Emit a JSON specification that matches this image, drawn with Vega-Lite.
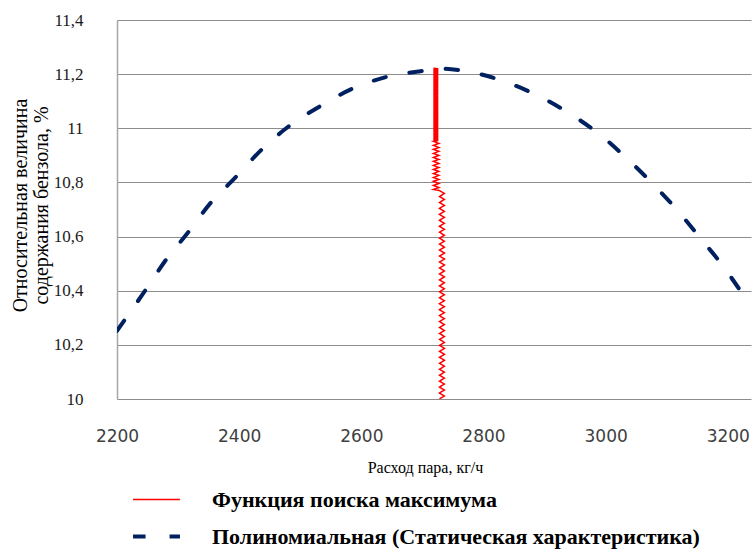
{
  "$schema": "https://vega.github.io/schema/vega-lite/v6.json",
  "width": 634,
  "height": 379,
  "autosize": "none",
  "padding": {"left": 117, "top": 20, "right": 3, "bottom": 155},
  "background": "white",
  "datasets": {
    "poly": [
      {"x": 2200, "y": 10.252, "s": "b"},
      {"x": 2246, "y": 10.4, "s": "b"},
      {"x": 2284, "y": 10.526, "s": "b"},
      {"x": 2311, "y": 10.6, "s": "b"},
      {"x": 2357, "y": 10.734, "s": "b"},
      {"x": 2386, "y": 10.8, "s": "b"},
      {"x": 2439, "y": 10.926, "s": "b"},
      {"x": 2477, "y": 11.0, "s": "b"},
      {"x": 2533, "y": 11.082, "s": "b"},
      {"x": 2584, "y": 11.145, "s": "b"},
      {"x": 2640, "y": 11.189, "s": "b"},
      {"x": 2697, "y": 11.211, "s": "b"},
      {"x": 2732, "y": 11.22, "s": "b"},
      {"x": 2768, "y": 11.212, "s": "b"},
      {"x": 2840, "y": 11.168, "s": "b"},
      {"x": 2894, "y": 11.115, "s": "b"},
      {"x": 2945, "y": 11.049, "s": "b"},
      {"x": 2992, "y": 10.974, "s": "b"},
      {"x": 3036, "y": 10.886, "s": "b"},
      {"x": 3078, "y": 10.793, "s": "b"},
      {"x": 3119, "y": 10.693, "s": "b"},
      {"x": 3157, "y": 10.589, "s": "b"},
      {"x": 3193, "y": 10.489, "s": "b"},
      {"x": 3227, "y": 10.381, "s": "b"},
      {"x": 3238, "y": 10.35, "s": "b"}
    ],
    "search": [
      {"x": 2728, "y": 10.000, "s": "a"}, {"x": 2736, "y": 10.011, "s": "a"},
      {"x": 2728, "y": 10.022, "s": "a"}, {"x": 2736, "y": 10.033, "s": "a"},
      {"x": 2728, "y": 10.044, "s": "a"}, {"x": 2736, "y": 10.055, "s": "a"},
      {"x": 2728, "y": 10.066, "s": "a"}, {"x": 2736, "y": 10.077, "s": "a"},
      {"x": 2728, "y": 10.088, "s": "a"}, {"x": 2736, "y": 10.099, "s": "a"},
      {"x": 2728, "y": 10.110, "s": "a"}, {"x": 2736, "y": 10.121, "s": "a"},
      {"x": 2728, "y": 10.132, "s": "a"}, {"x": 2736, "y": 10.143, "s": "a"},
      {"x": 2728, "y": 10.154, "s": "a"}, {"x": 2736, "y": 10.165, "s": "a"},
      {"x": 2728, "y": 10.176, "s": "a"}, {"x": 2736, "y": 10.187, "s": "a"},
      {"x": 2728, "y": 10.198, "s": "a"}, {"x": 2736, "y": 10.209, "s": "a"},
      {"x": 2728, "y": 10.220, "s": "a"}, {"x": 2736, "y": 10.231, "s": "a"},
      {"x": 2728, "y": 10.242, "s": "a"}, {"x": 2736, "y": 10.253, "s": "a"},
      {"x": 2728, "y": 10.264, "s": "a"}, {"x": 2736, "y": 10.275, "s": "a"},
      {"x": 2728, "y": 10.286, "s": "a"}, {"x": 2736, "y": 10.297, "s": "a"},
      {"x": 2728, "y": 10.308, "s": "a"}, {"x": 2736, "y": 10.319, "s": "a"},
      {"x": 2728, "y": 10.330, "s": "a"}, {"x": 2736, "y": 10.341, "s": "a"},
      {"x": 2728, "y": 10.352, "s": "a"}, {"x": 2736, "y": 10.363, "s": "a"},
      {"x": 2728, "y": 10.374, "s": "a"}, {"x": 2736, "y": 10.385, "s": "a"},
      {"x": 2728, "y": 10.396, "s": "a"}, {"x": 2736, "y": 10.407, "s": "a"},
      {"x": 2728, "y": 10.418, "s": "a"}, {"x": 2736, "y": 10.429, "s": "a"},
      {"x": 2728, "y": 10.440, "s": "a"}, {"x": 2736, "y": 10.451, "s": "a"},
      {"x": 2728, "y": 10.462, "s": "a"}, {"x": 2736, "y": 10.473, "s": "a"},
      {"x": 2728, "y": 10.484, "s": "a"}, {"x": 2736, "y": 10.495, "s": "a"},
      {"x": 2728, "y": 10.506, "s": "a"}, {"x": 2736, "y": 10.517, "s": "a"},
      {"x": 2728, "y": 10.528, "s": "a"}, {"x": 2736, "y": 10.539, "s": "a"},
      {"x": 2728, "y": 10.550, "s": "a"}, {"x": 2736, "y": 10.561, "s": "a"},
      {"x": 2728, "y": 10.572, "s": "a"}, {"x": 2736, "y": 10.583, "s": "a"},
      {"x": 2728, "y": 10.594, "s": "a"}, {"x": 2736, "y": 10.605, "s": "a"},
      {"x": 2728, "y": 10.616, "s": "a"}, {"x": 2736, "y": 10.627, "s": "a"},
      {"x": 2728, "y": 10.638, "s": "a"}, {"x": 2736, "y": 10.649, "s": "a"},
      {"x": 2728, "y": 10.660, "s": "a"}, {"x": 2736, "y": 10.671, "s": "a"},
      {"x": 2728, "y": 10.682, "s": "a"}, {"x": 2736, "y": 10.693, "s": "a"},
      {"x": 2728, "y": 10.704, "s": "a"}, {"x": 2736, "y": 10.715, "s": "a"},
      {"x": 2728, "y": 10.726, "s": "a"}, {"x": 2736, "y": 10.737, "s": "a"},
      {"x": 2728, "y": 10.748, "s": "a"}, {"x": 2736, "y": 10.759, "s": "a"},
      {"x": 2728, "y": 10.770, "s": "a"},
      {"x": 2718, "y": 10.774, "s": "a"}, {"x": 2727, "y": 10.781, "s": "a"},
      {"x": 2718, "y": 10.789, "s": "a"}, {"x": 2727, "y": 10.796, "s": "a"},
      {"x": 2718, "y": 10.804, "s": "a"}, {"x": 2727, "y": 10.811, "s": "a"},
      {"x": 2718, "y": 10.818, "s": "a"}, {"x": 2727, "y": 10.826, "s": "a"},
      {"x": 2718, "y": 10.833, "s": "a"}, {"x": 2727, "y": 10.841, "s": "a"},
      {"x": 2718, "y": 10.848, "s": "a"}, {"x": 2727, "y": 10.855, "s": "a"},
      {"x": 2718, "y": 10.863, "s": "a"}, {"x": 2727, "y": 10.870, "s": "a"},
      {"x": 2718, "y": 10.878, "s": "a"}, {"x": 2727, "y": 10.885, "s": "a"},
      {"x": 2718, "y": 10.892, "s": "a"}, {"x": 2727, "y": 10.900, "s": "a"},
      {"x": 2718, "y": 10.907, "s": "a"}, {"x": 2727, "y": 10.915, "s": "a"},
      {"x": 2718, "y": 10.922, "s": "a"}, {"x": 2727, "y": 10.929, "s": "a"},
      {"x": 2718, "y": 10.937, "s": "a"}, {"x": 2727, "y": 10.944, "s": "a"},
      {"x": 2718, "y": 10.952, "s": "a"},
      {"x": 2726, "y": 10.9545, "s": "a"}, {"x": 2718, "y": 10.957, "s": "a"},
      {"x": 2726, "y": 10.9595, "s": "a"}, {"x": 2718, "y": 10.962, "s": "a"},
      {"x": 2726, "y": 10.9645, "s": "a"}, {"x": 2718, "y": 10.967, "s": "a"},
      {"x": 2726, "y": 10.9695, "s": "a"}, {"x": 2718, "y": 10.972, "s": "a"},
      {"x": 2726, "y": 10.9745, "s": "a"}, {"x": 2718, "y": 10.977, "s": "a"},
      {"x": 2726, "y": 10.9795, "s": "a"}, {"x": 2718, "y": 10.982, "s": "a"},
      {"x": 2726, "y": 10.9845, "s": "a"}, {"x": 2718, "y": 10.987, "s": "a"},
      {"x": 2726, "y": 10.9895, "s": "a"}, {"x": 2718, "y": 10.992, "s": "a"},
      {"x": 2726, "y": 10.9945, "s": "a"}, {"x": 2718, "y": 10.997, "s": "a"},
      {"x": 2726, "y": 10.9995, "s": "a"}, {"x": 2718, "y": 11.002, "s": "a"},
      {"x": 2726, "y": 11.0045, "s": "a"}, {"x": 2718, "y": 11.007, "s": "a"},
      {"x": 2726, "y": 11.0095, "s": "a"}, {"x": 2718, "y": 11.012, "s": "a"},
      {"x": 2726, "y": 11.0145, "s": "a"}, {"x": 2718, "y": 11.017, "s": "a"},
      {"x": 2726, "y": 11.0195, "s": "a"}, {"x": 2718, "y": 11.022, "s": "a"},
      {"x": 2726, "y": 11.0245, "s": "a"}, {"x": 2718, "y": 11.027, "s": "a"},
      {"x": 2726, "y": 11.0295, "s": "a"}, {"x": 2718, "y": 11.032, "s": "a"},
      {"x": 2726, "y": 11.0345, "s": "a"}, {"x": 2718, "y": 11.037, "s": "a"},
      {"x": 2726, "y": 11.0395, "s": "a"}, {"x": 2718, "y": 11.042, "s": "a"},
      {"x": 2726, "y": 11.0445, "s": "a"}, {"x": 2718, "y": 11.047, "s": "a"},
      {"x": 2726, "y": 11.0495, "s": "a"}, {"x": 2718, "y": 11.052, "s": "a"},
      {"x": 2726, "y": 11.0545, "s": "a"}, {"x": 2718, "y": 11.057, "s": "a"},
      {"x": 2726, "y": 11.0595, "s": "a"}, {"x": 2718, "y": 11.062, "s": "a"},
      {"x": 2726, "y": 11.0645, "s": "a"}, {"x": 2718, "y": 11.067, "s": "a"},
      {"x": 2726, "y": 11.0695, "s": "a"}, {"x": 2718, "y": 11.072, "s": "a"},
      {"x": 2726, "y": 11.0745, "s": "a"}, {"x": 2718, "y": 11.077, "s": "a"},
      {"x": 2726, "y": 11.0795, "s": "a"}, {"x": 2718, "y": 11.082, "s": "a"},
      {"x": 2726, "y": 11.0845, "s": "a"}, {"x": 2718, "y": 11.087, "s": "a"},
      {"x": 2726, "y": 11.0895, "s": "a"}, {"x": 2718, "y": 11.092, "s": "a"},
      {"x": 2726, "y": 11.0945, "s": "a"}, {"x": 2718, "y": 11.097, "s": "a"},
      {"x": 2726, "y": 11.0995, "s": "a"}, {"x": 2718, "y": 11.102, "s": "a"},
      {"x": 2726, "y": 11.1045, "s": "a"}, {"x": 2718, "y": 11.107, "s": "a"},
      {"x": 2726, "y": 11.1095, "s": "a"}, {"x": 2718, "y": 11.112, "s": "a"},
      {"x": 2726, "y": 11.1145, "s": "a"}, {"x": 2718, "y": 11.117, "s": "a"},
      {"x": 2726, "y": 11.1195, "s": "a"}, {"x": 2718, "y": 11.122, "s": "a"},
      {"x": 2726, "y": 11.1245, "s": "a"}, {"x": 2718, "y": 11.127, "s": "a"},
      {"x": 2726, "y": 11.1295, "s": "a"}, {"x": 2718, "y": 11.132, "s": "a"},
      {"x": 2726, "y": 11.1345, "s": "a"}, {"x": 2718, "y": 11.137, "s": "a"},
      {"x": 2726, "y": 11.1395, "s": "a"}, {"x": 2718, "y": 11.142, "s": "a"},
      {"x": 2726, "y": 11.1445, "s": "a"}, {"x": 2718, "y": 11.147, "s": "a"},
      {"x": 2726, "y": 11.1495, "s": "a"}, {"x": 2718, "y": 11.152, "s": "a"},
      {"x": 2726, "y": 11.1545, "s": "a"}, {"x": 2718, "y": 11.157, "s": "a"},
      {"x": 2726, "y": 11.1595, "s": "a"}, {"x": 2718, "y": 11.162, "s": "a"},
      {"x": 2726, "y": 11.1645, "s": "a"}, {"x": 2718, "y": 11.167, "s": "a"},
      {"x": 2726, "y": 11.1695, "s": "a"}, {"x": 2718, "y": 11.172, "s": "a"},
      {"x": 2726, "y": 11.1745, "s": "a"}, {"x": 2718, "y": 11.177, "s": "a"},
      {"x": 2726, "y": 11.1795, "s": "a"}, {"x": 2718, "y": 11.182, "s": "a"},
      {"x": 2726, "y": 11.1845, "s": "a"}, {"x": 2718, "y": 11.187, "s": "a"},
      {"x": 2726, "y": 11.1895, "s": "a"}, {"x": 2718, "y": 11.192, "s": "a"},
      {"x": 2726, "y": 11.1945, "s": "a"}, {"x": 2718, "y": 11.197, "s": "a"},
      {"x": 2726, "y": 11.1995, "s": "a"}, {"x": 2718, "y": 11.202, "s": "a"},
      {"x": 2726, "y": 11.2045, "s": "a"}, {"x": 2718, "y": 11.207, "s": "a"},
      {"x": 2726, "y": 11.2095, "s": "a"}, {"x": 2718, "y": 11.212, "s": "a"},
      {"x": 2726, "y": 11.2145, "s": "a"}, {"x": 2718, "y": 11.217, "s": "a"},
      {"x": 2726, "y": 11.2195, "s": "a"}, {"x": 2718, "y": 11.222, "s": "a"}
    ]
  },
  "encoding": {
    "x": {
      "field": "x", "type": "quantitative",
      "scale": {"domain": [2200, 3238], "nice": false, "zero": false},
      "axis": {
        "values": [2200, 2400, 2600, 2800, 3000, 3200],
        "format": "d",
        "title": "Расход пара, кг/ч",
        "titleFont": "'Liberation Serif', 'Times New Roman', serif", "titleFontSize": 16, "titleFontWeight": "normal", "titleColor": "#000000",
        "titleX": 308, "titleY": 68, "titleAlign": "center", "titleBaseline": "middle",
        "labelFont": "'DejaVu Sans', sans-serif", "labelFontSize": 17, "labelColor": "#404040",
        "labelPadding": 29, "labelBaseline": "top",
        "labelOverlap": false, "labelFlush": false,
        "ticks": false, "domain": false, "grid": false
      }
    },
    "y": {
      "field": "y", "type": "quantitative",
      "scale": {"domain": [10, 11.4], "nice": false, "zero": false},
      "axis": {
        "values": [10, 10.2, 10.4, 10.6, 10.8, 11, 11.2, 11.4],
        "labelExpr": "replace(format(datum.value, '.1~f'), '.', ',')",
        "title": ["Относительная величина", "содержания бензола, %"],
        "titleFont": "'Liberation Serif', 'Times New Roman', serif", "titleFontSize": 20, "titleFontWeight": "normal", "titleColor": "#000000",
        "titleAngle": -90, "titleX": -97, "titleY": 185, "titleAlign": "center", "titleBaseline": "middle", "titleLineHeight": 21,
        "labelFont": "'Liberation Serif', 'Times New Roman', serif", "labelFontSize": 17, "labelColor": "#1a1a1a",
        "labelPadding": 34, "ticks": false,
        "domain": true, "domainColor": "#a6a6a6", "domainWidth": 1.5,
        "grid": true, "gridColor": "#8c8c8c", "gridWidth": 1.2
      }
    }
  },
  "layer": [
    {
      "data": {"name": "poly"},
      "mark": {"type": "line", "interpolate": "monotone", "strokeCap": "round", "clip": true},
      "encoding": {
        "color": {"field": "s", "type": "nominal",
          "scale": {"domain": ["a", "b"], "range": ["#ff0000", "#002060"]},
          "legend": {"labelExpr": "datum.value == 'a' ? 'Функция поиска максимума' : 'Полиномиальная (Статическая характеристика)'"}},
        "strokeDash": {"field": "s", "type": "nominal",
          "scale": {"domain": ["a", "b"], "range": [[1, 0], [12.5, 24]]},
          "legend": {"labelExpr": "datum.value == 'a' ? 'Функция поиска максимума' : 'Полиномиальная (Статическая характеристика)'"}},
        "strokeWidth": {"field": "s", "type": "nominal",
          "scale": {"domain": ["a", "b"], "range": [1.5, 4]},
          "legend": {"labelExpr": "datum.value == 'a' ? 'Функция поиска максимума' : 'Полиномиальная (Статическая характеристика)'"}}
      }
    },
    {
      "data": {"name": "search"},
      "mark": {"type": "line", "clip": true},
      "encoding": {
        "order": {"field": "y", "type": "quantitative"},
        "color": {"field": "s", "type": "nominal"},
        "strokeDash": {"field": "s", "type": "nominal"},
        "strokeWidth": {"field": "s", "type": "nominal"}
      }
    }
  ],
  "resolve": {"scale": {"color": "shared", "strokeDash": "shared", "strokeWidth": "shared"}},
  "config": {
    "view": {"stroke": null},
    "legend": {
      "orient": "none",
      "legendX": 14,
      "legendY": 455,
      "title": null,
      "symbolType": "stroke",
      "symbolSize": 2200,
      "labelFont": "'Liberation Serif', 'Times New Roman', serif",
      "labelFontSize": 22,
      "labelFontWeight": "bold",
      "labelColor": "#000000",
      "labelOffset": 30,
      "labelLimit": 700,
      "rowPadding": 0,
      "direction": "vertical"
    }
  }
}
